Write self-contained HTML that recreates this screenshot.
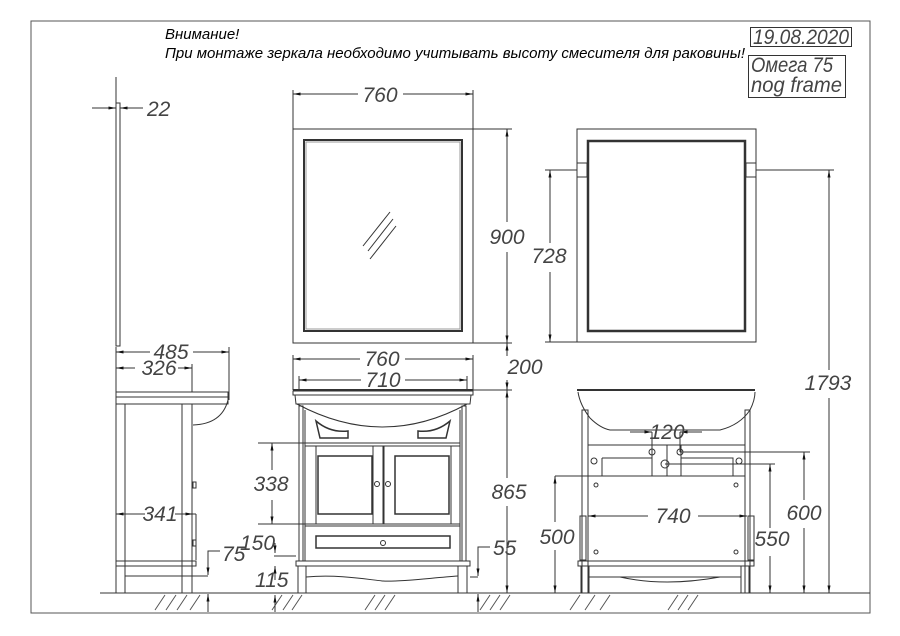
<!DOCTYPE html>
<html><head><meta charset="utf-8"><style>
html,body{margin:0;padding:0;background:#fff;width:900px;height:636px;overflow:hidden}
svg{display:block}
.d{font-family:"Liberation Sans",sans-serif;font-style:italic;font-size:21px;fill:#444;text-anchor:middle}
.s{text-anchor:start}
.n{font-family:"Liberation Sans","Noto Sans CJK SC",sans-serif;font-style:italic;font-size:15px;fill:#000}
</style></head><body>
<svg width="900" height="636" viewBox="0 0 900 636" xmlns="http://www.w3.org/2000/svg">
<defs>
<marker id="a" viewBox="0 0 10 4" refX="10" refY="2" markerWidth="8" markerHeight="3" orient="auto-start-reverse" markerUnits="userSpaceOnUse"><path d="M0,0L10,2L0,4z" fill="#111"/></marker>
</defs>
<g fill="none" stroke="#333" stroke-width="1">
<rect x="31" y="21" width="839" height="592" stroke="#555"/>
<rect x="750.5" y="27.5" width="101" height="19"/>
<rect x="748.5" y="55.5" width="97" height="42"/>
<line x1="116" y1="77" x2="116" y2="103"/>
<rect x="116" y="103" width="4" height="243"/>
<line x1="92" y1="108" x2="116" y2="108" marker-end="url(#a)"/>
<line x1="120" y1="108" x2="143" y2="108" marker-start="url(#a)"/>
<line x1="120" y1="108" x2="120" y2="103"/>
<rect x="293" y="129" width="180" height="214"/>
<rect x="304" y="140" width="158" height="191" stroke-width="2"/>
<rect x="306" y="142" width="154" height="187" stroke="#999"/>
<line x1="363" y1="246" x2="390" y2="212"/><line x1="368" y1="251" x2="393" y2="219"/><line x1="370" y1="259" x2="396" y2="226"/>
<line x1="293" y1="90" x2="293" y2="129"/><line x1="473" y1="90" x2="473" y2="129"/>
<line x1="293" y1="94" x2="358" y2="94" marker-start="url(#a)"/><line x1="403" y1="94" x2="473" y2="94" marker-end="url(#a)"/>
<line x1="473" y1="129" x2="512" y2="129"/><line x1="473" y1="343" x2="512" y2="343"/>
<line x1="507" y1="129" x2="507" y2="222" marker-start="url(#a)"/><line x1="507" y1="252" x2="507" y2="343" marker-end="url(#a)"/>
<rect x="577" y="129" width="179" height="213"/>
<rect x="588" y="141" width="157" height="190" stroke-width="2.5"/>
<rect x="577" y="163" width="10" height="14"/><rect x="746" y="163" width="10" height="14"/>
<line x1="545" y1="170" x2="577" y2="170"/><line x1="756" y1="170" x2="834" y2="170"/>
<line x1="545" y1="342" x2="577" y2="342"/>
<line x1="550" y1="170" x2="550" y2="243" marker-start="url(#a)"/><line x1="550" y1="272" x2="550" y2="342" marker-end="url(#a)"/>
<line x1="829" y1="170" x2="829" y2="370" marker-start="url(#a)"/><line x1="829" y1="398" x2="829" y2="593" marker-end="url(#a)"/>
<line x1="100" y1="593" x2="870" y2="593"/>
<g stroke="#555">
<path d="M155,610l10,-15M166,610l10,-15M177,610l10,-15M190,610l10,-15M272,610l10,-15M283,610l10,-15M292,610l10,-15M365,610l10,-15M375,610l10,-15M385,610l10,-15M480,610l10,-15M490,610l10,-15M500,610l10,-15M570,610l10,-15M585,610l10,-15M600,610l10,-15M668,610l10,-15M678,610l10,-15M688,610l10,-15"/>
</g>
<line x1="116" y1="347" x2="116" y2="392"/><line x1="229" y1="347" x2="229" y2="400"/><line x1="192" y1="364" x2="192" y2="392"/>
<line x1="116" y1="352" x2="150" y2="352" marker-start="url(#a)"/><line x1="193" y1="352" x2="229" y2="352" marker-end="url(#a)"/>
<line x1="116" y1="368" x2="135" y2="368" marker-start="url(#a)"/><line x1="178" y1="368" x2="192" y2="368" marker-end="url(#a)"/>
<rect x="116" y="392" width="112" height="5"/><rect x="116" y="397" width="112" height="7"/>
<path d="M228,400 Q222,424 193,425"/>
<rect x="116" y="404" width="9" height="189"/><rect x="182" y="404" width="10" height="189"/>
<rect x="193" y="482" width="3" height="6"/><rect x="193" y="540" width="3" height="6"/>
<line x1="116" y1="514" x2="145" y2="514" marker-start="url(#a)"/><line x1="175" y1="514" x2="193" y2="514" marker-end="url(#a)"/>
<line x1="193" y1="514" x2="196" y2="514"/><line x1="196" y1="514" x2="196" y2="560"/>
<rect x="116" y="561" width="80" height="5"/>
<line x1="125" y1="576" x2="208" y2="576"/>
<path d="M220,551H208V575" marker-end="url(#a)"/>
<line x1="208" y1="612" x2="208" y2="594" marker-end="url(#a)"/>
<line x1="293" y1="355" x2="293" y2="390"/><line x1="473" y1="355" x2="473" y2="390"/>
<line x1="299" y1="376" x2="299" y2="390"/><line x1="467" y1="376" x2="467" y2="390"/>
<line x1="293" y1="359" x2="360" y2="359" marker-start="url(#a)"/><line x1="405" y1="359" x2="473" y2="359" marker-end="url(#a)"/>
<line x1="299" y1="380" x2="361" y2="380" marker-start="url(#a)"/><line x1="405" y1="380" x2="467" y2="380" marker-end="url(#a)"/>
<line x1="293" y1="390" x2="473" y2="390" stroke-width="2"/>
<rect x="293" y="391" width="180" height="4"/>
<path d="M295,395 L296,404 L470,404 L471,395"/>
<path d="M297,404 Q383,450 467,404"/>
<line x1="473" y1="390" x2="512" y2="390"/>
<line x1="507" y1="343" x2="507" y2="356" marker-start="url(#a)"/><line x1="507" y1="380" x2="507" y2="390" marker-end="url(#a)"/>
<line x1="507" y1="390" x2="507" y2="478" marker-start="url(#a)"/><line x1="507" y1="506" x2="507" y2="593" marker-end="url(#a)"/>
<rect x="299" y="406" width="4" height="155"/><rect x="462" y="406" width="4" height="155"/>
<line x1="305" y1="410" x2="305" y2="561"/><line x1="460" y1="410" x2="460" y2="561"/>
<path d="M316,421 Q330,433 348,431 L348,438 L320,438z" stroke-width="1.5"/>
<path d="M450,421 Q436,433 418,431 L418,438 L446,438z" stroke-width="1.5"/>
<rect x="305" y="443" width="155" height="3"/>
<rect x="316" y="446" width="57" height="78"/><rect x="384" y="446" width="67" height="78"/>
<rect x="318" y="456" width="54" height="58" stroke-width="1.5"/><rect x="395" y="456" width="54" height="58" stroke-width="1.5"/>
<line x1="373" y1="446" x2="373" y2="524"/><line x1="383" y1="446" x2="383" y2="524"/>
<circle cx="377" cy="484" r="2.5"/><circle cx="388" cy="484" r="2.5"/>
<rect x="305" y="524" width="155" height="2"/>
<rect x="316" y="536" width="134" height="12" stroke-width="1.5"/>
<circle cx="383" cy="543" r="2.5"/>
<rect x="296" y="561" width="174" height="5"/>
<rect x="298" y="566" width="8" height="27"/><rect x="458" y="566" width="9" height="27"/>
<path d="M306,577 C340,574 370,580 383,581 C400,582 430,578 458,576"/>
<line x1="258" y1="443" x2="305" y2="443"/><line x1="258" y1="524" x2="305" y2="524"/>
<line x1="272" y1="443" x2="272" y2="470" marker-start="url(#a)"/><line x1="272" y1="500" x2="272" y2="524" marker-end="url(#a)"/>
<line x1="274" y1="556" x2="296" y2="556"/><line x1="275" y1="543" x2="275" y2="553" marker-end="url(#a)"/>
<line x1="275" y1="580" x2="275" y2="566" marker-end="url(#a)"/><line x1="275" y1="612" x2="275" y2="595" marker-end="url(#a)"/>
<path d="M490,547H478V576" marker-end="url(#a)"/><line x1="470" y1="577" x2="478" y2="577"/>
<line x1="478" y1="612" x2="478" y2="594" marker-end="url(#a)"/>
<line x1="577" y1="390" x2="755" y2="390" stroke-width="2"/>
<path d="M578,392 Q580,405 590,418 Q600,428 610,430 L720,430 Q740,425 750,410 Q755,400 755,392"/>
<rect x="582" y="410" width="6" height="183"/><rect x="745" y="410" width="5" height="183"/>
<path d="M588,445H745M588,445V476H745V445M602,458V476M733,458V476M602,458H652V476M681,458H733V476M667,445V476M652,445V476M681,445V476"/>
<circle cx="652" cy="452" r="3"/><circle cx="680" cy="452" r="3"/><circle cx="665" cy="464" r="4"/>
<circle cx="594" cy="461" r="3"/><circle cx="739" cy="461" r="3"/>
<circle cx="596" cy="485" r="2"/><circle cx="736" cy="485" r="2"/><circle cx="596" cy="552" r="2"/><circle cx="736" cy="552" r="2"/>
<line x1="630" y1="432" x2="652" y2="432" marker-end="url(#a)"/><line x1="680" y1="432" x2="702" y2="432" marker-start="url(#a)"/>
<line x1="652" y1="432" x2="652" y2="452"/><line x1="680" y1="432" x2="680" y2="452"/>
<rect x="580" y="516" width="6" height="44"/><rect x="748" y="516" width="6" height="44"/>
<line x1="588" y1="516" x2="648" y2="516" marker-start="url(#a)"/><line x1="698" y1="516" x2="747" y2="516" marker-end="url(#a)"/>
<rect x="578" y="561" width="176" height="5"/>
<rect x="581" y="566" width="8" height="27"/><rect x="741" y="566" width="8" height="27"/>
<line x1="589" y1="577" x2="741" y2="577"/>
<path d="M620,577 Q665,587 720,577"/>
<line x1="555" y1="476" x2="588" y2="476"/>
<line x1="555" y1="476" x2="555" y2="522" marker-start="url(#a)"/><line x1="555" y1="550" x2="555" y2="593" marker-end="url(#a)"/>
<line x1="665" y1="464" x2="775" y2="464"/>
<line x1="770" y1="464" x2="770" y2="528" marker-start="url(#a)"/><line x1="770" y1="556" x2="770" y2="593" marker-end="url(#a)"/>
<line x1="680" y1="452" x2="810" y2="452"/>
<line x1="804" y1="452" x2="804" y2="500" marker-start="url(#a)"/><line x1="804" y1="528" x2="804" y2="593" marker-end="url(#a)"/>
</g>
<text class="n" x="165" y="39">Внимание!</text>
<text class="n" x="165" y="58" textLength="580" lengthAdjust="spacingAndGlyphs">При монтаже зеркала необходимо учитывать высоту смесителя для раковины!</text>
<text class="d s" x="753" y="44" font-size="17" textLength="96" lengthAdjust="spacingAndGlyphs">19.08.2020</text>
<text class="d s" x="751" y="72" font-size="16" textLength="82" lengthAdjust="spacingAndGlyphs">Омега 75</text>
<text class="d s" x="751" y="92" font-size="16" textLength="91" lengthAdjust="spacingAndGlyphs">nog frame</text>
<text class="d s" x="147" y="116">22</text>
<text class="d" x="380" y="102">760</text>
<text class="d" x="507" y="244">900</text>
<text class="d" x="549" y="263">728</text>
<text class="d" x="828" y="390">1793</text>
<text class="d" x="171" y="359">485</text>
<text class="d" x="159" y="375">326</text>
<text class="d" x="382" y="366">760</text>
<text class="d" x="383" y="387">710</text>
<text class="d" x="525" y="374">200</text>
<text class="d" x="509" y="499">865</text>
<text class="d" x="271" y="491">338</text>
<text class="d" x="160" y="521">341</text>
<text class="d s" x="222" y="561">75</text>
<text class="d s" x="240" y="550">150</text>
<text class="d s" x="255" y="587">115</text>
<text class="d s" x="493" y="555">55</text>
<text class="d" x="667" y="439">120</text>
<text class="d" x="673" y="523">740</text>
<text class="d" x="557" y="544">500</text>
<text class="d" x="772" y="546">550</text>
<text class="d" x="804" y="520">600</text>
</svg>
</body></html>
